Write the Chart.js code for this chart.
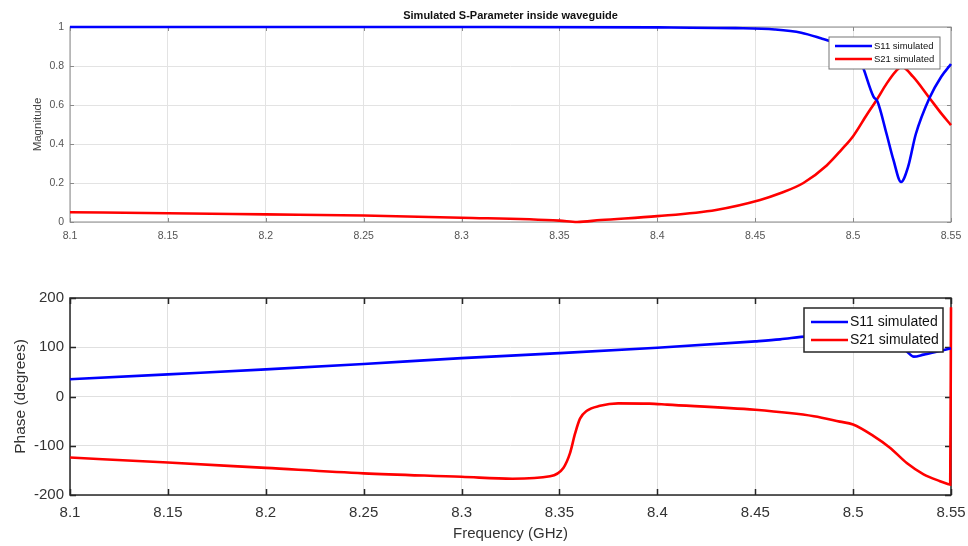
<!DOCTYPE html>
<html>
<head>
<meta charset="utf-8">
<script src="https://cdn.jsdelivr.net/npm/chart.js@4.4.1/dist/chart.umd.min.js"></script>
<style>
    body { margin: 0; background: #fff; }
    #wrap { position: relative; width: 968px; height: 546px; }
    #magBox { position: absolute; left: 0; top: 0; width: 968px; height: 250px; }
    #phaseBox { position: absolute; left: 0; top: 270px; width: 968px; height: 276px; }
</style>
</head>
<body>
<div id="wrap">
    <div id="magBox"><canvas id="magChart"></canvas></div>
    <div id="phaseBox"><canvas id="phaseChart"></canvas></div>
</div>
<script>
// Data

const freqTicks = [8.1, 8.15, 8.2, 8.25, 8.3, 8.35, 8.4, 8.45, 8.5, 8.55];
const magTicks = [0, 0.2, 0.4, 0.6, 0.8, 1];
const phaseTicks = [-200, -100, 0, 100, 200];
const seriesNames = ['S11 simulated', 'S21 simulated'];

// magnitude, S11
const magS11Freq = [8.1, 8.2, 8.3, 8.4, 8.44, 8.46, 8.4735, 8.4835, 8.49, 8.495, 8.5, 8.5035, 8.5104, 8.5125, 8.517, 8.5206, 8.5245, 8.528, 8.532, 8.539, 8.545, 8.55];
const magS11 = [1.0, 1.0, 1.0, 0.998, 0.994, 0.987, 0.971, 0.942, 0.92, 0.89, 0.86, 0.83, 0.643, 0.617, 0.455, 0.318, 0.205, 0.28, 0.45, 0.636, 0.745, 0.81];

// magnitude, S21
const magS21Freq = [8.1, 8.15, 8.2, 8.25, 8.3, 8.35, 8.359, 8.371, 8.4, 8.43, 8.4525, 8.4627, 8.4746, 8.4865, 8.494, 8.5, 8.507, 8.512, 8.5172, 8.522, 8.5248, 8.5306, 8.539, 8.545, 8.55];
const magS21 = [0.05, 0.045, 0.039, 0.033, 0.022, 0.007, 0.0, 0.01, 0.03, 0.062, 0.113, 0.147, 0.2, 0.29, 0.37, 0.44, 0.55, 0.626, 0.711, 0.775, 0.797, 0.745, 0.636, 0.557, 0.497];

// phase, S11
const phaseS11Freq = [8.1, 8.15, 8.2, 8.25, 8.3, 8.35, 8.4, 8.45, 8.4627, 8.4734, 8.49, 8.505, 8.515, 8.522, 8.5276, 8.531, 8.536, 8.5426, 8.55];
const phaseS11 = [35, 45, 55, 66, 78, 88, 99, 112, 116, 121, 127, 132, 127, 110, 91, 81, 85, 91, 98];

// phase, S21 (wraps from -180 to +180 at the last sample)
const phaseS21Freq = [8.1, 8.15, 8.2, 8.25, 8.3, 8.326, 8.3452, 8.352, 8.3554, 8.358, 8.3605, 8.364, 8.3707, 8.38, 8.396, 8.405, 8.45, 8.48, 8.4932, 8.5, 8.5103, 8.5188, 8.5274, 8.536, 8.5444, 8.5487, 8.5496, 8.55];
const phaseS21 = [-124, -134, -145, -156, -163, -167, -162, -145, -115, -75, -45, -29, -19, -14, -14.5, -16.5, -27, -40, -51, -57, -80, -104, -135, -158, -172, -178, -179, 181];

const fontFamily = '"Liberation Sans", Arial, Helvetica, sans-serif';

// Functions

function toPoints(xs, ys) {
    return xs.map(function(x, i) { return { x: x, y: ys[i] }; });
}

function lineSet(label, xs, ys, color, width) {
    return {
        label: label,
        data: toPoints(xs, ys),
        borderColor: color,
        backgroundColor: color,
        borderWidth: width,
        pointRadius: 0,
        cubicInterpolationMode: 'monotone',
        clip: false
    };
}

// keep the plot box where the picture has it (no extra room for edge labels)
function noEdgePadding(s) {
    s.paddingLeft = 0;
    s.paddingRight = 0;
}

// axes box with inward ticks, drawn below the lines
const matlabAxes = {
    id: 'matlabAxes',
    beforeDatasetsDraw(chart, args, opts) {
        const ctx = chart.ctx;
        const a = chart.chartArea;
        const xs = chart.scales.x;
        const ys = chart.scales.y;
        ctx.save();
        ctx.strokeStyle = opts.color;
        ctx.lineWidth = opts.width;
        ctx.strokeRect(a.left, a.top, a.right - a.left, a.bottom - a.top);
        ctx.beginPath();
        xs.ticks.forEach(function(t) {
            const px = Math.round(xs.getPixelForValue(t.value)) + 0.5;
            ctx.moveTo(px, a.bottom);
            ctx.lineTo(px, a.bottom - opts.tick);
            ctx.moveTo(px, a.top);
            ctx.lineTo(px, a.top + opts.tick);
        });
        ys.ticks.forEach(function(t) {
            const py = Math.round(ys.getPixelForValue(t.value)) + 0.5;
            ctx.moveTo(a.left, py);
            ctx.lineTo(a.left + opts.tick, py);
            ctx.moveTo(a.right, py);
            ctx.lineTo(a.right - opts.tick, py);
        });
        ctx.stroke();
        ctx.restore();
    }
};

// legend box in the upper right corner of the plot
const boxLegend = {
    id: 'boxLegend',
    afterDatasetsDraw(chart, args, opts) {
        const ctx = chart.ctx;
        const a = chart.chartArea;
        const x = a.right - opts.right - opts.width;
        const y = a.top + opts.top;
        ctx.save();
        ctx.fillStyle = '#fff';
        ctx.fillRect(x, y, opts.width, opts.height);
        ctx.strokeStyle = opts.borderColor;
        ctx.lineWidth = opts.borderWidth;
        ctx.strokeRect(x, y, opts.width, opts.height);
        ctx.font = opts.fontSize + 'px ' + fontFamily;
        ctx.textBaseline = 'middle';
        ctx.textAlign = 'left';
        chart.data.datasets.forEach(function(ds, i) {
            const ly = y + opts.rowTop + i * opts.rowGap;
            ctx.strokeStyle = ds.borderColor;
            ctx.lineWidth = opts.lineWidth;
            ctx.beginPath();
            ctx.moveTo(x + opts.pad, ly);
            ctx.lineTo(x + opts.pad + opts.lineLen, ly);
            ctx.stroke();
            ctx.fillStyle = '#111';
            ctx.fillText(ds.label, x + opts.pad + opts.lineLen + 2, ly + 0.5);
        });
        ctx.restore();
    }
};

// Magnitude chart

new Chart(document.getElementById('magChart'), {
    type: 'line',
    data: {
        datasets: [
            lineSet(seriesNames[0], magS11Freq, magS11, '#0000ff', 2.6),
            lineSet(seriesNames[1], magS21Freq, magS21, '#ff0000', 2.6)
        ]
    },
    plugins: [matlabAxes, boxLegend],
    options: {
        responsive: true,
        maintainAspectRatio: false,
        animation: false,
        layout: { padding: { left: 0, right: 17, top: 0, bottom: 0 } },
        plugins: {
            legend: { display: false },
            tooltip: { enabled: false },
            title: {
                display: true,
                text: 'Simulated S-Parameter inside waveguide',
                fullSize: false,
                color: '#111',
                font: { family: fontFamily, size: 11, weight: 'bold', lineHeight: 1.2 },
                padding: { top: 9.5, bottom: 4.3 }
            },
            matlabAxes: { color: '#8a8a8a', width: 1, tick: 4 },
            boxLegend: {
                right: 11, top: 10, width: 111, height: 32,
                rowTop: 9, rowGap: 13, pad: 6, lineLen: 37, lineWidth: 2.6,
                fontSize: 9.5, borderColor: '#777', borderWidth: 1
            }
        },
        scales: {
            x: {
                type: 'linear',
                min: 8.1,
                max: 8.55,
                afterBuildTicks: function(s) { s.ticks = freqTicks.map(function(v) { return { value: v }; }); },
                afterFit: function(s) { s.height = 28; noEdgePadding(s); },
                grid: { color: '#e3e3e3', drawTicks: false },
                border: { display: false },
                ticks: {
                    padding: 8,
                    maxRotation: 0,
                    autoSkip: false,
                    color: '#555',
                    font: { family: fontFamily, size: 10.5 },
                    callback: function(v) { return String(v); }
                }
            },
            y: {
                min: 0,
                max: 1,
                afterBuildTicks: function(s) { s.ticks = magTicks.map(function(v) { return { value: v }; }); },
                afterFit: function(s) { s.width = 70; },
                grid: { color: '#e3e3e3', drawTicks: false },
                border: { display: false },
                title: {
                    display: true,
                    text: 'Magnitude',
                    color: '#444',
                    font: { family: fontFamily, size: 11.5 },
                    padding: { top: 31, bottom: 0 }
                },
                ticks: {
                    padding: 6,
                    color: '#555',
                    font: { family: fontFamily, size: 10.5 },
                    callback: function(v) { return String(v); }
                }
            }
        }
    }
});

// Phase chart

new Chart(document.getElementById('phaseChart'), {
    type: 'line',
    data: {
        datasets: [
            lineSet(seriesNames[0], phaseS11Freq, phaseS11, '#0000ff', 2.6),
            lineSet(seriesNames[1], phaseS21Freq, phaseS21, '#ff0000', 2.6)
        ]
    },
    plugins: [matlabAxes, boxLegend],
    options: {
        responsive: true,
        maintainAspectRatio: false,
        animation: false,
        layout: { padding: { left: 0, right: 17, top: 28, bottom: 0 } },
        plugins: {
            legend: { display: false },
            tooltip: { enabled: false },
            matlabAxes: { color: '#262626', width: 1.5, tick: 6 },
            boxLegend: {
                right: 8, top: 10, width: 139, height: 44,
                rowTop: 14, rowGap: 18, pad: 7, lineLen: 37, lineWidth: 2.6,
                fontSize: 14, borderColor: '#262626', borderWidth: 1.5
            }
        },
        scales: {
            x: {
                type: 'linear',
                min: 8.1,
                max: 8.55,
                afterBuildTicks: function(s) { s.ticks = freqTicks.map(function(v) { return { value: v }; }); },
                afterFit: function(s) { s.height = 51; noEdgePadding(s); },
                grid: { color: '#e0e0e0', drawTicks: false },
                border: { display: false },
                title: {
                    display: true,
                    text: 'Frequency (GHz)',
                    color: '#333',
                    font: { family: fontFamily, size: 15 },
                    padding: { top: 0, bottom: 3 }
                },
                ticks: {
                    padding: 9,
                    maxRotation: 0,
                    autoSkip: false,
                    color: '#333',
                    font: { family: fontFamily, size: 15 },
                    callback: function(v) { return String(v); }
                }
            },
            y: {
                min: -200,
                max: 200,
                afterBuildTicks: function(s) { s.ticks = phaseTicks.map(function(v) { return { value: v }; }); },
                afterFit: function(s) { s.width = 70; },
                grid: { color: '#e0e0e0', drawTicks: false },
                border: { display: false },
                title: {
                    display: true,
                    text: 'Phase (degrees)',
                    color: '#333',
                    font: { family: fontFamily, size: 15.5 },
                    padding: { top: 11, bottom: 0 }
                },
                ticks: {
                    padding: 6,
                    color: '#333',
                    font: { family: fontFamily, size: 15 },
                    callback: function(v) { return String(v); }
                }
            }
        }
    }
});
</script>
</body>
</html>
